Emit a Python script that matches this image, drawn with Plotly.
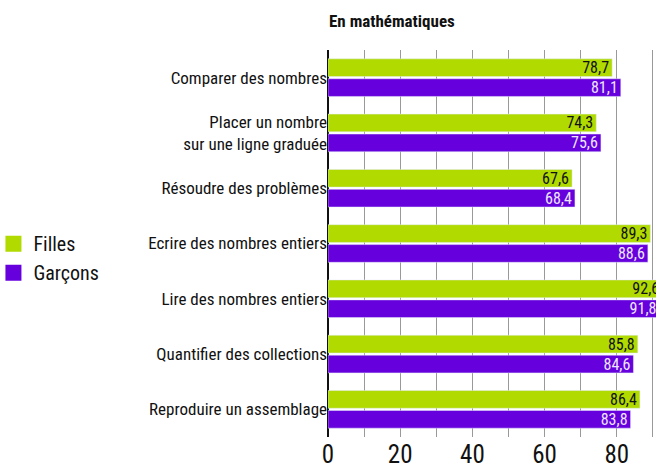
import plotly.graph_objects as go

# success rates (%) by skill, girls vs boys
categories = [
    "Comparer des nombres",
    "Placer un nombre<br>sur une ligne graduée",
    "Résoudre des problèmes",
    "Ecrire des nombres entiers",
    "Lire des nombres entiers",
    "Quantifier des collections",
    "Reproduire un assemblage",
]
filles = [78.7, 74.3, 67.6, 89.3, 92.6, 85.8, 86.4]
garcons = [81.1, 75.6, 68.4, 88.6, 91.8, 84.6, 83.8]
x_ticks = [0, 20, 40, 60, 80]

GREEN = "#b0da00"
PURPLE = "#6600dd"
FONT = "Liberation Sans Narrow, Roboto Condensed, Roboto, sans-serif"

fig = go.Figure()
fig.add_bar(y=categories, x=filles, name="Filles", orientation="h",
            marker_color=GREEN, texttemplate="%{x:.1f}", textposition="inside",
            insidetextanchor="end", textfont=dict(color="#111111", size=16),
            showlegend=False)
fig.add_bar(y=categories, x=garcons, name="Garçons", orientation="h",
            marker_color=PURPLE, texttemplate="%{x:.1f}", textposition="inside",
            insidetextanchor="end", textfont=dict(color="#eee6ff", size=16),
            showlegend=False)
# bigger square swatches for the legend
for name, col in [("Filles", GREEN), ("Garçons", PURPLE)]:
    fig.add_scatter(x=[None], y=[None], mode="markers", name=name,
                    marker=dict(symbol="square", size=16, color=col))

fig.update_layout(
    width=656, height=470,
    barmode="group", bargap=0.28, bargroupgap=0.11,
    separators=", ",
    font=dict(family=FONT, color="#222222"),
    plot_bgcolor="white", paper_bgcolor="white",
    margin=dict(l=328, r=0, t=50, b=33, autoexpand=False),
    title=dict(text="<b>En mathématiques</b>", x=329 / 656, xanchor="left",
               xref="container", yref="container",
               y=1 - 21 / 470, yanchor="middle", font=dict(size=17, color="#111111")),
    legend=dict(x=-1.02, y=0.55, xanchor="left", yanchor="top",
                font=dict(size=20, color="#111111"),
                tracegroupgap=0, itemwidth=30),
    uniformtext=dict(minsize=16, mode="show"),
)
fig.update_xaxes(range=[0, 90.85], tickvals=x_ticks, automargin=False,
                 showgrid=True, gridcolor="#999999", gridwidth=1,
                 zeroline=True, zerolinecolor="#111111", zerolinewidth=1.5,
                 tickfont=dict(size=25, color="#111111"), ticks="")
fig.update_xaxes(minor=dict(dtick=10, showgrid=True, gridcolor="#999999", gridwidth=1))
fig.update_yaxes(autorange="reversed", tickfont=dict(size=17, color="#111111"),
                 ticks="", showgrid=False, automargin=False)

fig.write_html("out.html", config={"displayModeBar": False},
               post_script="document.body.style.margin = '0';")
